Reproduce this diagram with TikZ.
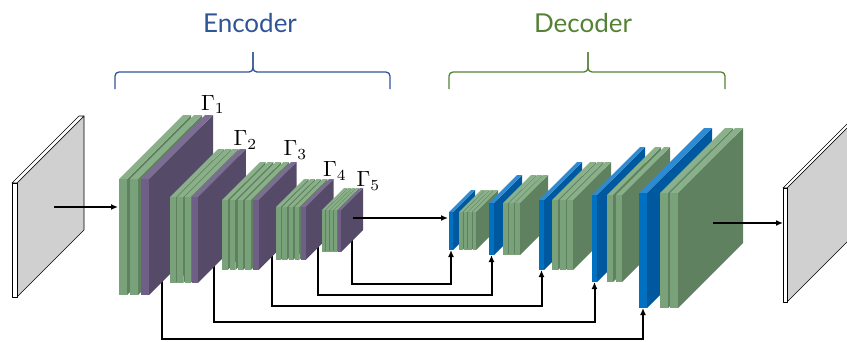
\documentclass[tikz,border=0pt]{standalone}
\usepackage{graphicx}
\usepackage{fontspec}
\setmainfont{Lato}
\usetikzlibrary{arrows.meta}

\definecolor{greenfront}{HTML}{79A27A}
\definecolor{greentop}{HTML}{8AB08A}
\definecolor{greenside}{HTML}{608160}
\definecolor{purplefront}{HTML}{6F5E85}
\definecolor{purpletop}{HTML}{7E6D93}
\definecolor{purpleside}{HTML}{564A69}
\definecolor{bluefront}{HTML}{0070C0}
\definecolor{bluetop}{HTML}{2F8AD2}
\definecolor{blueside}{HTML}{00599E}
\definecolor{planegray}{HTML}{D0D0D0}
\definecolor{encblue}{HTML}{2F5597}
\definecolor{decgreen}{HTML}{548235}

% one slab: x, top, bottom, thickness, depth, colour
\newcommand{\Slab}[6]{%
  \fill[#6side] ({#1+#4},#2) -- ++(#5,-#5) -- ({#1+#4+#5},{#3-#5}) -- ({#1+#4},#3) -- cycle;
  \fill[#6top] (#1,#2) -- ++(#5,-#5) -- ++(#4,0) -- ({#1+#4},#2) -- cycle;
  \fill[#6front] (#1,#2) rectangle ({#1+#4},#3);
}
% x, top, bottom, green slabs, pitch, thickness, depth
\newcommand{\EncBlock}[7]{%
  \foreach \i [evaluate=\i as \xx using #1+(\i-1)*#5] in {1,...,#4}
    \Slab{\xx}{#2}{#3}{#6}{#7}{green};
  \Slab{#1+#4*#5}{#2}{#3}{#6}{#7}{purple};
}
% blue x, blue thickness, green x, green slabs, pitch, thickness, top, bottom, depth
\newcommand{\DecBlock}[9]{%
  \Slab{#1}{#7}{#8}{#2}{#9}{blue};
  \foreach \i [evaluate=\i as \xx using #3+(\i-1)*#5] in {1,...,#4}
    \Slab{\xx}{#7}{#8}{#6}{#9}{green};
}
% x, top, bottom, thickness, depth
\newcommand{\Plane}[5]{%
  \filldraw[planeside] ({#1+#4},#2) -- ++(#5,-#5) -- ({#1+#4+#5},{#3-#5}) -- ({#1+#4},#3) -- cycle;
  \filldraw[planeedge] (#1,#2) -- ++(#5,-#5) -- ++(#4,0) -- ({#1+#4},#2) -- cycle;
  \filldraw[planeedge] (#1,#2) rectangle ({#1+#4},#3);
}
\newcommand{\Gam}[1]{\scalebox{2.2}{$\Gamma_{#1}$}}

\begin{document}
\begin{tikzpicture}[x=1pt,y=-1pt]

    \tikzset{
      flow/.style = {line width=2pt, -{Latex[length=7pt,width=6pt]}},
      planeside/.style = {fill=planegray, draw=black, line width=0.6pt, line join=round},
      planeedge/.style = {fill=white, draw=black, line width=0.6pt, line join=round},
      encbrace/.style = {draw=encblue, line width=1.3pt, rounded corners=4pt},
      decbrace/.style = {draw=decgreen, line width=1.3pt, rounded corners=4pt},
      title/.style = {anchor=base, font=\fontsize{26}{30}\selectfont},
      gam/.style = {inner sep=0pt} }
    \useasboundingbox (0,0) rectangle (847,341);
    \clip (0,0) rectangle (847,341);

    \coordinate (inp) at (54,207);
    \coordinate (e1in) at (118,207);
    \coordinate (e5m) at (353,218);
    \coordinate (d1in) at (448,218);
    \coordinate (d5m) at (713,223);
    \coordinate (outp) at (783,223);

    \coordinate (e1b) at (162,270);
    \coordinate (e2b) at (214,255);
    \coordinate (e3b) at (272,245);
    \coordinate (e4b) at (317.5,240);
    \coordinate (e5b) at (352,235);
    \coordinate (d1b) at (451,250);
    \coordinate (d2b) at (491.5,255);
    \coordinate (d3b) at (541.5,270);
    \coordinate (d4b) at (594.5,282);
    \coordinate (d5b) at (643,308);

    % input and output
    \Plane{12}{183}{297}{5}{67}
    \Plane{783}{188}{302}{4}{67}

    % skip connections
    \foreach \e/\d/\lev in {e1b/d5b/339, e2b/d4b/322, e3b/d3b/306, e4b/d2b/294.6, e5b/d1b/284}{
      \coordinate (lv) at (0,\lev);
      \draw[flow] (\e) -- (\e |- lv) -| (\d);
    }

    % encoder
    \EncBlock{119}{179}{295}{2}{11}{8}{64}
    \EncBlock{170}{197}{283}{3}{7.3}{6}{48}
    \EncBlock{222}{200}{270}{4}{7.75}{5.5}{38}
    \EncBlock{276}{207}{260}{4}{6.25}{4.5}{28}
    \EncBlock{322}{210}{252}{4}{4}{3}{22}

    % decoder
    \DecBlock{449}{4}{459}{4}{4.5}{3.5}{212}{250}{22}
    \DecBlock{489}{5}{503}{3}{6}{5}{203}{255}{28}
    \DecBlock{539}{5}{552}{3}{7.5}{6}{200}{270}{38}
    \DecBlock{592}{5}{607}{2}{9}{6}{195}{282}{48}
    \DecBlock{639}{8}{660}{2}{10}{8}{193}{308}{65}

    \draw[flow] (inp) -- (e1in);
    \draw[flow] (e5m) -- (d1in);
    \draw[flow] (d5m) -- (outp);

    \node[gam] (g1) at (213,104.5) {\Gam{1}};
    \node[gam] (g2) at (245.5,140) {\Gam{2}};
    \node[gam] (g3) at (295.5,150) {\Gam{3}};
    \node[gam] (g4) at (335,171) {\Gam{4}};
    \node[gam] (g5) at (368.5,181) {\Gam{5}};

    \draw[encbrace] (115,89) -- (115,72) -- (253,72) -- (253,52);
    \draw[encbrace] (390,89) -- (390,72) -- (253,72) -- (253,52);
    \draw[decbrace] (449,89) -- (449,72) -- (588,72) -- (588,52);
    \draw[decbrace] (725,89) -- (725,72) -- (588,72) -- (588,52);

    \node[title, text=encblue] (enc) at (250,32) {Encoder};
    \node[title, text=decgreen] (dec) at (583,32) {Decoder};
\end{tikzpicture}
\end{document}
